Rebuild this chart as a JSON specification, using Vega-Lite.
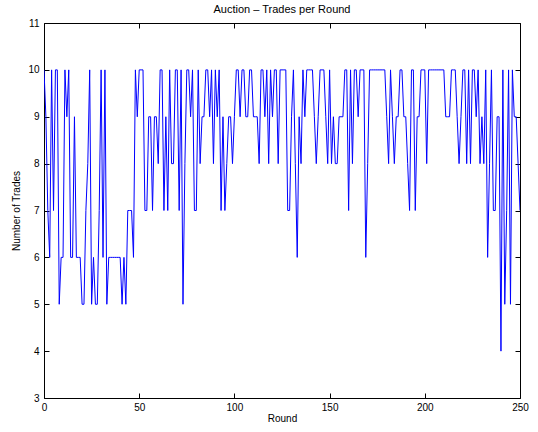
{
  "$schema": "https://vega.github.io/schema/vega-lite/v6.json",
  "width": 476,
  "height": 375,
  "autosize": {"type": "none"},
  "padding": {"left": 44, "top": 23, "right": 18, "bottom": 34},
  "background": "white",
  "title": {"text": "Auction – Trades per Round", "fontSize": 11, "fontWeight": "normal", "font": "Liberation Sans", "color": "black", "offset": 3},
  "config": {
    "view": {"stroke": "black", "strokeWidth": 1},
    "axis": {"grid": false, "domain": false, "ticks": true, "offset": -5, "tickSize": 5, "tickWidth": 1, "tickColor": "black", "tickOpacity": 1, "labelFlush": false, "labelColor": "black", "titleColor": "black", "labelFont": "Liberation Sans", "titleFont": "Liberation Sans", "labelFontSize": 10, "titleFontSize": 10, "titleFontWeight": "normal", "zindex": 1}
  },
  "data": {"values": [
    {"round":0,"trades":10},{"round":1,"trades":9},{"round":2,"trades":7},{"round":3,"trades":6},{"round":4,"trades":10},
    {"round":5,"trades":7},{"round":6,"trades":10},{"round":7,"trades":10},{"round":8,"trades":5},{"round":9,"trades":6},
    {"round":10,"trades":6},{"round":11,"trades":10},{"round":12,"trades":9},{"round":13,"trades":10},{"round":14,"trades":6},
    {"round":15,"trades":6},{"round":16,"trades":9},{"round":17,"trades":6},{"round":18,"trades":6},{"round":19,"trades":6},
    {"round":20,"trades":5},{"round":21,"trades":5},{"round":22,"trades":7},{"round":23,"trades":8},{"round":24,"trades":10},
    {"round":25,"trades":5},{"round":26,"trades":6},{"round":27,"trades":5},{"round":28,"trades":5},{"round":29,"trades":7},
    {"round":30,"trades":10},{"round":31,"trades":6},{"round":32,"trades":10},{"round":33,"trades":5},{"round":34,"trades":6},
    {"round":35,"trades":6},{"round":36,"trades":6},{"round":37,"trades":6},{"round":38,"trades":6},{"round":39,"trades":6},
    {"round":40,"trades":6},{"round":41,"trades":5},{"round":42,"trades":6},{"round":43,"trades":5},{"round":44,"trades":7},
    {"round":45,"trades":7},{"round":46,"trades":7},{"round":47,"trades":6},{"round":48,"trades":10},{"round":49,"trades":9},
    {"round":50,"trades":10},{"round":51,"trades":10},{"round":52,"trades":10},{"round":53,"trades":7},{"round":54,"trades":7},
    {"round":55,"trades":9},{"round":56,"trades":9},{"round":57,"trades":7},{"round":58,"trades":9},{"round":59,"trades":9},
    {"round":60,"trades":8},{"round":61,"trades":10},{"round":62,"trades":10},{"round":63,"trades":7},{"round":64,"trades":9},
    {"round":65,"trades":7},{"round":66,"trades":10},{"round":67,"trades":8},{"round":68,"trades":8},{"round":69,"trades":10},
    {"round":70,"trades":10},{"round":71,"trades":7},{"round":72,"trades":10},{"round":73,"trades":5},{"round":74,"trades":8},
    {"round":75,"trades":10},{"round":76,"trades":10},{"round":77,"trades":9},{"round":78,"trades":10},{"round":79,"trades":7},
    {"round":80,"trades":7},{"round":81,"trades":10},{"round":82,"trades":8},{"round":83,"trades":9},{"round":84,"trades":9},
    {"round":85,"trades":10},{"round":86,"trades":10},{"round":87,"trades":9},{"round":88,"trades":10},{"round":89,"trades":8},
    {"round":90,"trades":10},{"round":91,"trades":9},{"round":92,"trades":10},{"round":93,"trades":7},{"round":94,"trades":9},
    {"round":95,"trades":7},{"round":96,"trades":8},{"round":97,"trades":9},{"round":98,"trades":9},{"round":99,"trades":8},
    {"round":100,"trades":9},{"round":101,"trades":10},{"round":102,"trades":10},{"round":103,"trades":9},{"round":104,"trades":10},
    {"round":105,"trades":10},{"round":106,"trades":9},{"round":107,"trades":9},{"round":108,"trades":10},{"round":109,"trades":10},
    {"round":110,"trades":9},{"round":111,"trades":9},{"round":112,"trades":9},{"round":113,"trades":8},{"round":114,"trades":10},
    {"round":115,"trades":10},{"round":116,"trades":9},{"round":117,"trades":10},{"round":118,"trades":8},{"round":119,"trades":10},
    {"round":120,"trades":9},{"round":121,"trades":10},{"round":122,"trades":10},{"round":123,"trades":8},{"round":124,"trades":10},
    {"round":125,"trades":10},{"round":126,"trades":10},{"round":127,"trades":10},{"round":128,"trades":7},{"round":129,"trades":7},
    {"round":130,"trades":9},{"round":131,"trades":10},{"round":132,"trades":8},{"round":133,"trades":6},{"round":134,"trades":9},
    {"round":135,"trades":8},{"round":136,"trades":10},{"round":137,"trades":9},{"round":138,"trades":10},{"round":139,"trades":10},
    {"round":140,"trades":10},{"round":141,"trades":10},{"round":142,"trades":9},{"round":143,"trades":8},{"round":144,"trades":9},
    {"round":145,"trades":10},{"round":146,"trades":10},{"round":147,"trades":10},{"round":148,"trades":9},{"round":149,"trades":8},
    {"round":150,"trades":10},{"round":151,"trades":8},{"round":152,"trades":9},{"round":153,"trades":8},{"round":154,"trades":8},
    {"round":155,"trades":9},{"round":156,"trades":9},{"round":157,"trades":9},{"round":158,"trades":10},{"round":159,"trades":10},
    {"round":160,"trades":7},{"round":161,"trades":10},{"round":162,"trades":8},{"round":163,"trades":10},{"round":164,"trades":10},
    {"round":165,"trades":9},{"round":166,"trades":10},{"round":167,"trades":10},{"round":168,"trades":10},{"round":169,"trades":6},
    {"round":170,"trades":8},{"round":171,"trades":10},{"round":172,"trades":10},{"round":173,"trades":10},{"round":174,"trades":10},
    {"round":175,"trades":10},{"round":176,"trades":10},{"round":177,"trades":10},{"round":178,"trades":10},{"round":179,"trades":10},
    {"round":180,"trades":9},{"round":181,"trades":8},{"round":182,"trades":10},{"round":183,"trades":9},{"round":184,"trades":8},
    {"round":185,"trades":9},{"round":186,"trades":9},{"round":187,"trades":10},{"round":188,"trades":10},{"round":189,"trades":9},
    {"round":190,"trades":9},{"round":191,"trades":8},{"round":192,"trades":7},{"round":193,"trades":10},{"round":194,"trades":10},
    {"round":195,"trades":7},{"round":196,"trades":9},{"round":197,"trades":9},{"round":198,"trades":10},{"round":199,"trades":10},
    {"round":200,"trades":10},{"round":201,"trades":8},{"round":202,"trades":10},{"round":203,"trades":10},{"round":204,"trades":10},
    {"round":205,"trades":10},{"round":206,"trades":10},{"round":207,"trades":10},{"round":208,"trades":10},{"round":209,"trades":10},
    {"round":210,"trades":10},{"round":211,"trades":9},{"round":212,"trades":9},{"round":213,"trades":9},{"round":214,"trades":10},
    {"round":215,"trades":10},{"round":216,"trades":10},{"round":217,"trades":9},{"round":218,"trades":8},{"round":219,"trades":9},
    {"round":220,"trades":10},{"round":221,"trades":10},{"round":222,"trades":8},{"round":223,"trades":10},{"round":224,"trades":8},
    {"round":225,"trades":10},{"round":226,"trades":10},{"round":227,"trades":9},{"round":228,"trades":10},{"round":229,"trades":8},
    {"round":230,"trades":9},{"round":231,"trades":8},{"round":232,"trades":10},{"round":233,"trades":6},{"round":234,"trades":8},
    {"round":235,"trades":10},{"round":236,"trades":7},{"round":237,"trades":7},{"round":238,"trades":9},{"round":239,"trades":9},
    {"round":240,"trades":4},{"round":241,"trades":10},{"round":242,"trades":5},{"round":243,"trades":7},{"round":244,"trades":10},
    {"round":245,"trades":5},{"round":246,"trades":10},{"round":247,"trades":9},{"round":248,"trades":9},{"round":249,"trades":8},
    {"round":250,"trades":7}
  ]},
  "layer": [
    {
      "mark": {"type": "line", "color": "#0000ff", "strokeWidth": 1, "clip": true},
      "encoding": {
        "x": {"field": "round", "type": "quantitative", "scale": {"domain": [0, 250], "nice": false, "zero": false},
              "axis": {"values": [0, 50, 100, 150, 200, 250], "title": "Round", "labelPadding": 4, "titlePadding": 1}},
        "y": {"field": "trades", "type": "quantitative", "scale": {"domain": [3, 11], "nice": false, "zero": false},
              "axis": {"values": [3, 4, 5, 6, 7, 8, 9, 10, 11], "title": "Number of Trades", "labelPadding": 5, "titlePadding": 6}}
      }
    },
    {
      "mark": {"type": "line", "opacity": 0},
      "encoding": {
        "x": {"field": "round", "type": "quantitative", "axis": {"orient": "top", "values": [0, 50, 100, 150, 200, 250], "labels": false, "title": null}},
        "y": {"field": "trades", "type": "quantitative", "axis": {"orient": "right", "values": [3, 4, 5, 6, 7, 8, 9, 10, 11], "labels": false, "title": null}}
      }
    }
  ],
  "resolve": {"axis": {"x": "independent", "y": "independent"}}
}
